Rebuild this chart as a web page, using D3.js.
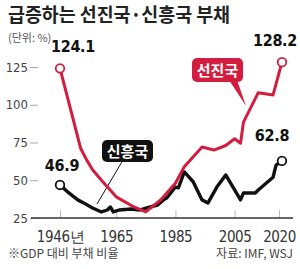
<!DOCTYPE html>
<html>
<head>
<meta charset="utf-8">
<script src="https://cdn.jsdelivr.net/npm/d3@7"></script>
<style>
  body { margin: 0; background: #fff; }
  svg { display: block; }
  .num { font-family: "Liberation Sans Narrow", "DejaVu Sans Condensed", "Liberation Sans", sans-serif; }
  .kr { font-family: "Noto Sans CJK KR", "Noto Sans", sans-serif; }
</style>
</head>
<body>
<svg width="300" height="269"></svg>
<script>
// 선진국 (advanced economies) debt, % of GDP
var advYears = [1946, 1953, 1955, 1957, 1960, 1965, 1971, 1975, 1980, 1985, 1988, 1994, 1998, 2002, 2005, 2007, 2008, 2013, 2018, 2021];
var advValues = [124.1, 71, 63.5, 57, 50, 39, 32.3, 29, 37, 48, 59, 72, 70, 73, 77.5, 74.5, 88.5, 108, 106.5, 128.2];

// 신흥국 (emerging economies)
var emgYears = [1946, 1949, 1952, 1954, 1957, 1960, 1962, 1963, 1964, 1966, 1970, 1973, 1975, 1979, 1981, 1982, 1985, 1986, 1988, 1991, 1994, 1996, 1999, 2002, 2007, 2008, 2012, 2013, 2018, 2019, 2021];
var emgValues = [46.9, 41.6, 37, 35, 31.6, 29, 30.3, 32.3, 29, 30.3, 31, 30.3, 31.6, 33.6, 37, 38.2, 45.5, 45, 55.5, 49, 37, 35, 45.5, 53.5, 37, 41.6, 41.6, 43.5, 52, 60, 62.8];

var yTicks = [25, 50, 75, 100, 125];
var xTicks = [1946, 1965, 1985, 2005, 2020];

var RED = "#d21d3f", BLACK = "#111";

var svg = d3.select("svg");

var x = d3.scaleLinear().domain([1946, 2020]).range([60, 279]);
var y = d3.scaleLinear().domain([25, 125]).range([218, 67]);

// title
svg.append("text")
  .attr("class", "kr")
  .attr("x", 8).attr("y", 22)
  .attr("font-size", 19.5).attr("font-weight", 700)
  .attr("fill", "#222")
  .attr("textLength", 222).attr("lengthAdjust", "spacingAndGlyphs")
  .text("급증하는 선진국·신흥국 부채");

svg.append("text")
  .attr("class", "kr")
  .attr("x", 8).attr("y", 42)
  .attr("font-size", 11).attr("fill", "#555")
  .text("(단위: %)");

// y axis
var yAxis = svg.append("g")
  .attr("transform", "translate(38,0)")
  .call(d3.axisLeft(y).tickValues(yTicks).tickSize(8).tickPadding(2));
yAxis.select(".domain").remove();
yAxis.selectAll(".tick line").attr("stroke", "#aaa");
yAxis.selectAll(".tick text")
  .attr("class", "num")
  .attr("font-size", 13).attr("fill", "#444");

// x axis
var xAxis = svg.append("g")
  .attr("transform", "translate(0,218)")
  .call(d3.axisBottom(x).tickValues(xTicks).tickSize(-8).tickPadding(13)
    .tickFormat(function(d) { return d === 1946 ? d + "년" : d; }));
xAxis.select(".domain").remove();
xAxis.selectAll(".tick line").attr("stroke", "#bbb");
xAxis.selectAll(".tick text")
  .attr("class", "num")
  .attr("font-size", 15).attr("fill", "#333")
  .attr("letter-spacing", -0.4);

svg.append("line")
  .attr("x1", 31).attr("x2", 293)
  .attr("y1", y(25)).attr("y2", y(25))
  .attr("stroke", "#333").attr("stroke-width", 1.5);

var line = d3.line()
  .x(function(d) { return x(d[0]); })
  .y(function(d) { return y(d[1]); });

var adv = d3.zip(advYears, advValues);
var emg = d3.zip(emgYears, emgValues);

// annotation tails (under lines)
svg.append("line")
  .attr("x1", 123).attr("y1", 160).attr("x2", 97).attr("y2", 204)
  .attr("stroke", BLACK).attr("stroke-width", 1);
svg.append("path")
  .attr("d", "M229,80 L237,80 L246,106 Z")
  .attr("fill", RED);

svg.append("path")
  .datum(emg)
  .attr("d", line)
  .attr("fill", "none").attr("stroke", BLACK)
  .attr("stroke-width", 3.4).attr("stroke-linejoin", "round");

svg.append("path")
  .datum(adv)
  .attr("d", line)
  .attr("fill", "none").attr("stroke", RED)
  .attr("stroke-width", 3).attr("stroke-linejoin", "round");

// end point circles
var ends = [
  [adv[0], RED], [adv[adv.length - 1], RED],
  [emg[0], BLACK], [emg[emg.length - 1], BLACK]
];
svg.selectAll(".endpt")
  .data(ends)
  .enter().append("circle")
    .attr("class", "endpt")
    .attr("cx", function(d) { return x(d[0][0]); })
    .attr("cy", function(d) { return y(d[0][1]); })
    .attr("r", 4.3)
    .attr("fill", "#fff")
    .attr("stroke", function(d) { return d[1]; })
    .attr("stroke-width", 1.8);

// value labels
var valueLabels = [
  [adv[0], 73, 52], [adv[adv.length - 1], 275, 46],
  [emg[0], 62, 171], [emg[emg.length - 1], 272, 141]
];
svg.selectAll(".vlab")
  .data(valueLabels)
  .enter().append("text")
    .attr("class", "vlab num")
    .attr("x", function(d) { return d[1]; })
    .attr("y", function(d) { return d[2]; })
    .attr("text-anchor", "middle")
    .attr("font-size", 16).attr("font-weight", 700)
    .attr("fill", "#111")
    .attr("letter-spacing", -0.3)
    .text(function(d) { return d[0][1].toFixed(1); });

// series boxes
svg.append("rect")
  .attr("x", 192).attr("y", 58).attr("width", 51).attr("height", 24)
  .attr("rx", 5).attr("fill", RED);
svg.append("text")
  .attr("class", "kr")
  .attr("x", 217.5).attr("y", 75.5)
  .attr("text-anchor", "middle")
  .attr("font-size", 15).attr("font-weight", 700).attr("fill", "#fff")
  .text("선진국");

svg.append("rect")
  .attr("x", 102).attr("y", 140).attr("width", 51).attr("height", 22)
  .attr("rx", 5).attr("fill", BLACK);
svg.append("text")
  .attr("class", "kr")
  .attr("x", 127.5).attr("y", 156.5)
  .attr("text-anchor", "middle")
  .attr("font-size", 15).attr("font-weight", 700).attr("fill", "#fff")
  .text("신흥국");

// footer
svg.append("text")
  .attr("class", "kr")
  .attr("x", 8).attr("y", 258)
  .attr("font-size", 12).attr("fill", "#444")
  .text("※GDP 대비 부채 비율");
svg.append("text")
  .attr("class", "kr")
  .attr("x", 293).attr("y", 258)
  .attr("text-anchor", "end")
  .attr("font-size", 12).attr("fill", "#444")
  .text("자료: IMF, WSJ");
</script>
</body>
</html>
